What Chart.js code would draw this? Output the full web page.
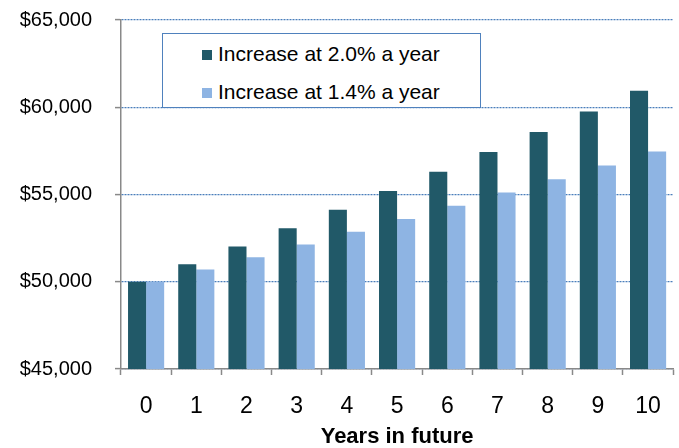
<!DOCTYPE html>
<html>
<head>
<meta charset="utf-8">
<script src="https://cdn.jsdelivr.net/npm/chart.js@4"></script>
<style>
  html, body { margin: 0; padding: 0; background: #fff; }
  #wrap { position: relative; width: 679px; height: 448px; }
  #legend {
    position: absolute; left: 162px; top: 33px; width: 317px; height: 73px;
    border: 1.5px solid #4f81bd; background: #fff;
    font-family: "Liberation Sans", Arial, sans-serif; font-size: 21px; color: #000;
  }
  .item { position: absolute; left: 39px; height: 24px; line-height: 24px; white-space: nowrap; }
  .swatch { display: inline-block; width: 10px; height: 10px; margin-right: 6px; vertical-align: 1px; }
</style>
</head>
<body>
<div id="wrap">
  <canvas id="chart" width="679" height="448"></canvas>
  <div id="legend"></div>
</div>
<script>
// years along the x axis
const years = ['0', '1', '2', '3', '4', '5', '6', '7', '8', '9', '10'];

// salary values
const rise20 = [50000, 51000, 52020, 53060, 54120, 55200, 56310, 57430, 58580, 59750, 60950];
const rise14 = [50000, 50700, 51410, 52130, 52860, 53600, 54350, 55110, 55880, 56660, 57460];

const seriesNames = ['Increase at 2.0% a year', 'Increase at 1.4% a year'];
const seriesColors = ['#215968', '#8eb4e3'];

const FONT = '"Liberation Sans", Arial, sans-serif';
const AXIS_GRAY = '#898989';

const chart = new Chart(document.getElementById('chart').getContext('2d'), {
    type: 'bar',
    data: {
        labels: years,
        datasets: [
            { label: seriesNames[0], data: rise20, backgroundColor: seriesColors[0] },
            { label: seriesNames[1], data: rise14, backgroundColor: seriesColors[1] }
        ]
    },
    options: {
        responsive: false,
        animation: false,
        layout: { padding: { top: 20, right: 3, bottom: 0, left: 0 } },
        datasets: { bar: { categoryPercentage: 0.72, barPercentage: 1.0, borderWidth: 0 } },
        plugins: { legend: { display: false }, tooltip: { enabled: false } },
        scales: {
            x: {
                offset: true,
                grid: {
                    offset: true, drawOnChartArea: false, drawTicks: true,
                    tickLength: 6, tickColor: AXIS_GRAY, tickWidth: 1.5
                },
                border: { color: AXIS_GRAY, width: 1.5 },
                ticks: { color: '#000', padding: 18, font: { family: FONT, size: 23 } },
                title: {
                    display: true, text: 'Years in future', color: '#000',
                    padding: 0, font: { family: FONT, size: 22, weight: 'bold', lineHeight: 1 }
                },
                afterFit: s => { s.height = 79; }
            },
            y: {
                min: 45000, max: 65000,
                grid: {
                    color: '#4a7ebb', lineWidth: 1.2,
                    tickLength: 6, tickColor: AXIS_GRAY, tickWidth: 1.5, tickBorderDash: []
                },
                // in v4 the grid line dash sits under border
                border: { color: AXIS_GRAY, width: 1.5, dash: [2, 1] },
                ticks: {
                    stepSize: 5000, color: '#000', padding: 23,
                    font: { family: FONT, size: 20 },
                    callback: v => '$' + v.toLocaleString('en-US')
                },
                afterFit: s => { s.width = 121; s.paddingTop = 0; s.paddingBottom = 0; }
            }
        }
    }
});

// legend box built from the datasets
const legendBox = document.getElementById('legend');
chart.data.datasets.forEach((ds, i) => {
    const row = document.createElement('div');
    row.className = 'item';
    row.style.top = (8 + i * 38) + 'px';
    row.innerHTML = '<span class="swatch" style="background:' + ds.backgroundColor + '"></span>' + ds.label;
    legendBox.appendChild(row);
});
</script>
</body>
</html>
